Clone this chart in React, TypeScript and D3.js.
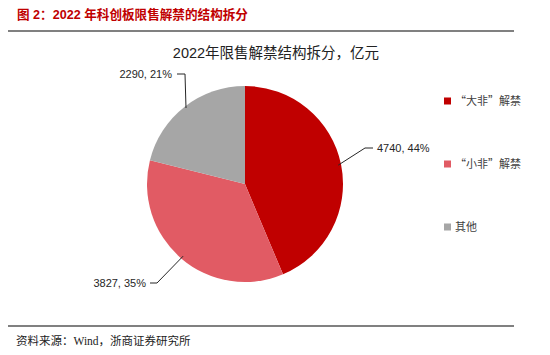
import React from "react";
import * as d3 from "d3";

const categories = ["“大非”解禁", "“小非”解禁", "其他"];
const values = [4740, 3827, 2290];
const percents = ["44%", "35%", "21%"];
const colors = ["#C00000", "#E15B64", "#A6A6A6"];

const W = 550, H = 355;
const cx = 245, cy = 184, R = 98;

export default function App() {
  const pie = d3.pie<number>().sort(null).startAngle(0).endAngle(2 * Math.PI)(values);
  const arc = d3.arc<d3.PieArcDatum<number>>().innerRadius(0).outerRadius(R);

  const labelPos = [
    { tx: 377, ty: 152, anchor: "start", elbow: [365, 148], lineEnd: [373, 148] },
    { tx: 146, ty: 287, anchor: "end", elbow: [157, 283], lineEnd: [150, 283] },
    { tx: 172, ty: 78, anchor: "end", elbow: [185, 74], lineEnd: [177, 74] },
  ];
  const font = "'Liberation Sans', Arial, 'Noto Sans CJK SC', sans-serif";

  return (
    <svg width={W} height={H} style={{ position: "absolute", left: 0, top: 0, background: "#fff" }}>
      <text x={17} y={19} fontSize={12.6} fontWeight="bold" fill="#C00000"
        fontFamily="'Liberation Sans', 'Noto Sans CJK SC', sans-serif">
        图 2：2022 年科创板限售解禁的结构拆分
      </text>
      <line x1={8} x2={514} y1={31} y2={31} stroke="#808080" strokeWidth={2} />
      <text x={276} y={58} fontSize={14.5} textAnchor="middle" fill="#222" fontFamily={font}>
        2022年限售解禁结构拆分，亿元
      </text>
      <g transform={`translate(${cx},${cy})`}>
        {pie.map((d, i) => (
          <path key={i} d={arc(d) || ""} fill={colors[i]} />
        ))}
      </g>
      {pie.map((d, i) => {
        const mid = (d.startAngle + d.endAngle) / 2;
        const px = cx + Math.sin(mid) * R * 0.97;
        const py = cy - Math.cos(mid) * R * 0.97;
        const p = labelPos[i];
        const pts = i === 2
          ? [[p.lineEnd[0], p.lineEnd[1]], [p.elbow[0], p.elbow[1]], [p.elbow[0] + 1, 108]]
          : [[p.lineEnd[0], p.lineEnd[1]], [p.elbow[0], p.elbow[1]], [px, py]];
        return (
          <g key={i}>
            <polyline points={pts.map((q) => q.join(",")).join(" ")} fill="none" stroke="#262626" strokeWidth={1} />
            <text x={p.tx} y={p.ty} fontSize={11} textAnchor={p.anchor as any} fill="#262626" fontFamily={font}>
              {`${values[i]}, ${percents[i]}`}
            </text>
          </g>
        );
      })}
      {categories.map((c, i) => (
        <g key={i} transform={`translate(444, ${101 + i * 63})`}>
          <rect x={0} y={-3.5} width={7} height={7} fill={colors[i]} />
          <text x={11} y={4} fontSize={11} fill="#404040" fontFamily="'Noto Sans CJK SC', sans-serif">{c}</text>
        </g>
      ))}
      <line x1={8} x2={514} y1={326} y2={326} stroke="#808080" strokeWidth={2} />
      <text x={16} y={345} fontSize={11.5} fill="#222" fontFamily="'Liberation Serif', 'Noto Sans CJK SC', serif">
        资料来源：Wind，浙商证券研究所
      </text>
    </svg>
  );
}
